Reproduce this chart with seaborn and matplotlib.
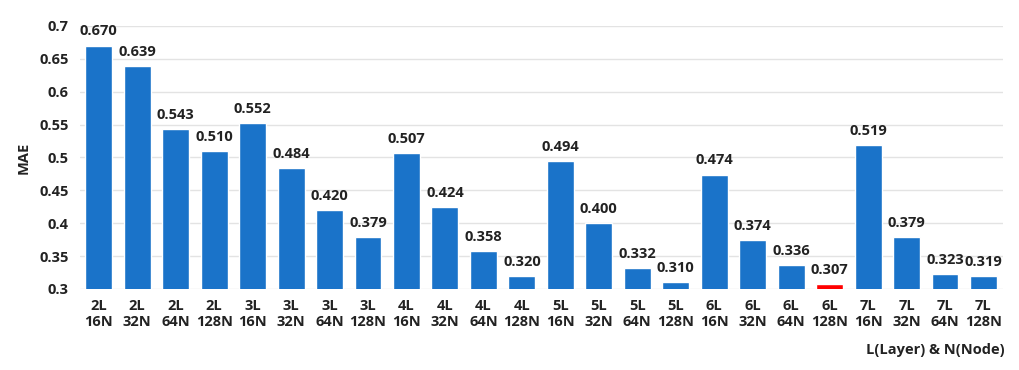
import numpy as np
import pandas as pd
import seaborn as sns
import matplotlib.pyplot as plt

sns.set_theme(style="whitegrid")
plt.rcParams['font.family'] = ['Open Sans', 'DejaVu Sans']

layers = ["2L", "3L", "4L", "5L", "6L", "7L"]
nodes = ["16N", "32N", "64N", "128N"]
mae = [0.670, 0.639, 0.543, 0.510,
       0.552, 0.484, 0.420, 0.379,
       0.507, 0.424, 0.358, 0.320,
       0.494, 0.400, 0.332, 0.310,
       0.474, 0.374, 0.336, 0.307,
       0.519, 0.379, 0.323, 0.319]
best = "6L\n128N"

labels = [f"{l}\n{n}" for l in layers for n in nodes]
df = pd.DataFrame({"config": labels, "mae": mae})
df["best"] = np.where(df["config"] == best, "best", "other")

fig = plt.figure(figsize=(10.2, 3.7), dpi=100)
ax = fig.add_axes([0.078, 0.219, 0.905, 0.711])

sns.barplot(data=df, x="config", y="mae", hue="best",
            palette={"other": "#1a73c9", "best": "#ff0000"},
            dodge=False, width=0.7, saturation=1, legend=False, ax=ax)

txt = dict(fontsize=10.5, fontweight="bold", color="#222222")

ticks = np.arange(0.3, 0.701, 0.05).round(2)
ax.set_ylim(0.3, 0.7)
ax.set_yticks(ticks)
ax.set_yticklabels([f"{t:g}" for t in ticks], **txt)
ax.set_xticks(range(len(labels)))
ax.set_xticklabels(labels, linespacing=1.25, **txt)
ax.tick_params(axis="y", length=0, pad=8)
ax.tick_params(axis="x", length=0, pad=7)
ax.set_xlim(-0.5, len(labels) - 0.5)

for i, v in enumerate(mae):
    ax.text(i, v + 0.011, f"{v:.3f}", ha="center", va="bottom", **txt)

ax.grid(axis="x", visible=False)
ax.grid(axis="y", color="#e3e3e3", linewidth=1)
for s in ax.spines.values():
    s.set_visible(False)

ax.set_ylabel("MAE", labelpad=6, **txt)
ax.set_xlabel("")
fig.text(0.985, 0.035, "L(Layer) & N(Node)", ha="right", va="bottom", **txt)

fig.savefig("out.png", dpi=100)
